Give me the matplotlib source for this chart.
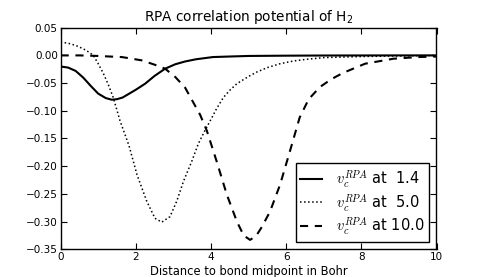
import matplotlib
matplotlib.use("Agg")
import matplotlib.pyplot as plt

# ---- data ----
x_14 = [0, 0.2, 0.4, 0.6, 0.8, 1.0, 1.2, 1.36, 1.5, 1.65, 1.8, 2.0, 2.25, 2.5,
        2.78, 3.05, 3.31, 3.6, 4.05, 4.5, 5.0, 6.0, 7.0, 8.0, 9.0, 10.0]
y_14 = [-0.020, -0.022, -0.028, -0.040, -0.055, -0.069, -0.077, -0.080, -0.079,
        -0.076, -0.070, -0.062, -0.051, -0.037, -0.024, -0.016, -0.011, -0.007,
        -0.003, -0.002, -0.001, -0.0005, -0.0002, -0.0001, 0.0, 0.0]

x_50 = [0, 0.2, 0.4, 0.6, 0.75, 0.87, 1.0, 1.14, 1.27, 1.40, 1.58, 1.82, 2.03,
        2.29, 2.51, 2.69, 2.91, 3.09, 3.27, 3.49, 3.66, 3.82, 3.98, 4.15, 4.33,
        4.5, 4.69, 5.0, 5.22, 5.5, 5.84, 6.2, 6.55, 7.0, 7.5, 8.0, 9.0, 10.0]
y_50 = [0.024, 0.022, 0.018, 0.012, 0.006, 0.000, -0.015, -0.033, -0.053,
        -0.076, -0.118, -0.163, -0.215, -0.263, -0.294, -0.301, -0.291, -0.263,
        -0.227, -0.191, -0.160, -0.138, -0.118, -0.096, -0.076, -0.063, -0.051,
        -0.038, -0.030, -0.022, -0.015, -0.010, -0.007, -0.004, -0.003, -0.002,
        -0.001, 0.000]

x_100 = [0, 0.5, 1.0, 1.3, 1.63, 1.9, 2.16, 2.51, 2.78, 3.05, 3.31, 3.53, 3.71,
         3.89, 4.15, 4.42, 4.69, 4.87, 5.04, 5.2, 5.35, 5.57, 5.84, 6.1, 6.36,
         6.6, 6.9, 7.2, 7.5, 8.1, 8.85, 9.5, 10.0]
y_100 = [0.0, 0.0, -0.001, -0.002, -0.003, -0.006, -0.009, -0.017, -0.024,
         -0.039, -0.058, -0.085, -0.107, -0.136, -0.191, -0.251, -0.300, -0.325,
         -0.333, -0.326, -0.310, -0.282, -0.233, -0.173, -0.112, -0.079, -0.057,
         -0.043, -0.032, -0.015, -0.006, -0.003, -0.002]

labels = [r"$v_c^{RPA}$ at  1.4", r"$v_c^{RPA}$ at  5.0", r"$v_c^{RPA}$ at 10.0"]
title = r"RPA correlation potential of H$_2$"
xlabel = "Distance to bond midpoint in Bohr"
xticks = [0, 2, 4, 6, 8, 10]
yticks = [0.05, 0.00, -0.05, -0.10, -0.15, -0.20, -0.25, -0.30, -0.35]

plt.rcParams["mathtext.fontset"] = "cm"

fig = plt.figure(figsize=(4.85, 2.77), dpi=100)
ax = fig.add_axes([0.125, 0.1, 0.775, 0.8])

ax.plot(x_14, y_14, color="black", lw=1.5, ls="-", label=labels[0])
ax.plot(x_50, y_50, color="black", lw=1.1, ls=":", label=labels[1])
ax.plot(x_100, y_100, color="black", lw=1.5, ls=(0, (3.9, 3.2)), label=labels[2])

ax.set_xlim(0, 10)
ax.set_ylim(-0.35, 0.05)
ax.set_xticks(xticks)
ax.set_yticks(yticks)
ax.set_yticklabels([f"{v:.2f}".replace("-", "\u2212") for v in yticks])
ax.tick_params(direction="in", top=True, right=True, length=4, width=0.8,
               labelsize=7.5, pad=2, colors="black")
for s in ax.spines.values():
    s.set_linewidth(1.0)
    s.set_color("black")

ax.set_title(title, fontsize=9.8, pad=4.5, math_fontfamily="dejavusans")
ax.set_xlabel(xlabel, fontsize=8.3, labelpad=2)

leg = ax.legend(loc="lower right", fontsize=10.5, frameon=True, fancybox=False,
                framealpha=1, edgecolor="black", handlelength=1.5,
                handletextpad=0.95, borderpad=0.32, labelspacing=0.15,
                borderaxespad=0.5)
leg.get_frame().set_linewidth(1.0)

fig.savefig("out.png", dpi=100)
